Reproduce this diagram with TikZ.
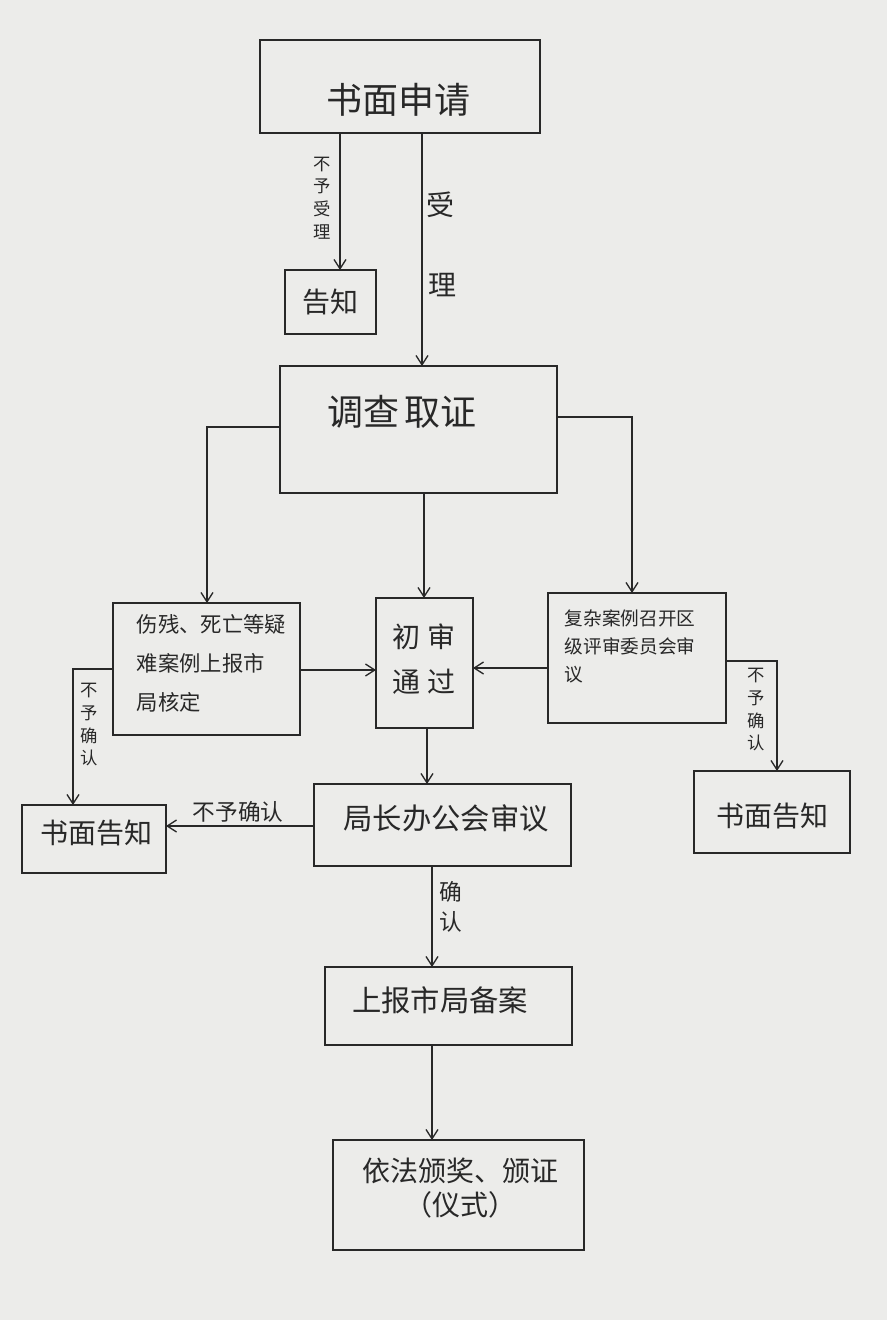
\documentclass[tikz,border=0pt]{standalone}
\usepackage{fontspec}
\newfontfamily\cjk{Noto Sans CJK SC}
\usetikzlibrary{arrows.meta}
\definecolor{paper}{RGB}{236,236,234}
\definecolor{ink}{RGB}{40,40,40}
\tikzset{
  box/.style={draw=ink, line width=1.1pt, inner sep=0pt},
  conn/.style={draw=ink, line width=1pt},
  arr/.style={conn, -{Straight Barb[length=7pt,width=9pt]}},
  big/.style={font=\cjk\fontsize{27}{30}\selectfont, text=ink},
  mid/.style={font=\cjk\fontsize{21}{26}\selectfont, text=ink},
  small/.style={font=\cjk\fontsize{13}{17}\selectfont, text=ink, align=center},
  print/.style={font=\cjk\fontsize{14}{21}\selectfont, text=ink, align=left},
}
\begin{document}
\begin{tikzpicture}[x=0.75pt,y=-0.75pt]
\fill[paper] (0,0) rectangle (887,1320);
\useasboundingbox (0,0) rectangle (887,1320);
% boxes
\draw[box] (260,40) rectangle (540,133); \node[big] (sq) at (398,100) {书面申请};
\coordinate (sqA) at (340,133); \coordinate (sqB) at (422,133);
\draw[box] (285,270) rectangle (376,334); \node[mid] (gz) at (330,302) {告知};
\coordinate (gzT) at (340,270);
\draw[box] (280,366) rectangle (557,493); \node[big] (dc) at (402,412) {调查\,取证};
\coordinate (dcT) at (422,366); \coordinate (dcL) at (280,427); \coordinate (dcR) at (557,417); \coordinate (dcB) at (424,493);
\draw[box] (113,603) rectangle (300,735);
\node[font=\cjk\fontsize{16}{29}\selectfont, text=ink, align=left, anchor=north west] (sc) at (132,610) {伤残、死亡等疑\\难案例上报市\\局核定};
\coordinate (scT) at (207,603); \coordinate (scR) at (300,670); \coordinate (scL) at (113,669);
\draw[box] (376,598) rectangle (473,728);
\node[mid] (cs) at (424,663) {\begin{tabular}{@{}c@{\hspace{6pt}}c@{}}初&审\\[8pt]通&过\end{tabular}};
\coordinate (csT) at (424,598); \coordinate (csL) at (376,670); \coordinate (csR) at (473,668); \coordinate (csB) at (427,728);
\draw[box] (548,593) rectangle (726,723);
\node[print, anchor=north west] (fz) at (560,605) {复杂案例召开区\\级评审委员会审\\议};
\coordinate (fzT) at (632,593); \coordinate (fzL) at (548,668); \coordinate (fzR) at (726,661);
\draw[box] (22,805) rectangle (166,873); \node[mid] (gzl) at (96,833) {书面告知};
\coordinate (gzlT) at (73,805); \coordinate (gzlR) at (166,826);
\draw[box] (314,784) rectangle (571,866); \node[mid, font=\cjk\fontsize{22}{26}\selectfont] (jz) at (446,818) {局长办公会审议};
\coordinate (jzT) at (427,784); \coordinate (jzL) at (314,826); \coordinate (jzB) at (432,866);
\draw[box] (694,771) rectangle (850,853); \node[mid] (gzr) at (772,816) {书面告知};
\coordinate (gzrT) at (777,771);
\draw[box] (325,967) rectangle (572,1045); \node[mid, font=\cjk\fontsize{22}{26}\selectfont] (sb) at (440,1000) {上报市局备案};
\coordinate (sbT) at (432,967); \coordinate (sbB) at (432,1045);
\draw[box] (333,1140) rectangle (584,1250);
\node[mid, align=center] (yf) at (460,1188) {依法颁奖、颁证\\（仪式）};
\coordinate (yfT) at (432,1140);
% connectors
\draw[arr] (sqA) -- (gzT);
\node[small] at (322,198) {不\\予\\受\\理};
\draw[arr] (sqB) -- (dcT);
\node[mid] at (440,205) {受}; \node[mid] at (442,285) {理};
\draw[arr] (dcL) -- (207,427) -- (scT);
\draw[arr] (dcR) -- (632,417) -- (fzT);
\draw[arr] (dcB) -- (csT);
\draw[arr] (scR) -- (csL);
\draw[arr] (fzL) -- (csR);
\draw[arr] (csB) -- (jzT);
\draw[arr] (scL) -- (73,669) -- (gzlT);
\node[small] at (89,725) {不\\予\\确\\认};
\draw[arr] (fzR) -- (777,661) -- (gzrT);
\node[small] at (756,710) {不\\予\\确\\认};
\draw[arr] (jzL) -- (gzlR);
\node[font=\cjk\fontsize{17}{20}\selectfont, text=ink] at (238,812) {不予确认};
\draw[arr] (jzB) -- (sbT);
\node[align=center, font=\cjk\fontsize{17}{22}\selectfont, text=ink] at (451,907) {确\\认};
\draw[arr] (sbB) -- (yfT);
\end{tikzpicture}
\end{document}
